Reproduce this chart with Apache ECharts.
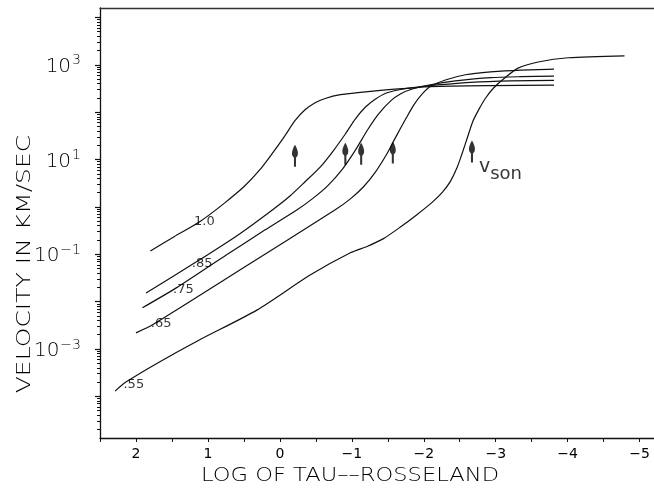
<!DOCTYPE html>
<html>
<head>
<meta charset="utf-8">
<script src="https://cdn.jsdelivr.net/npm/echarts@6/dist/echarts.min.js"></script>
<style>
  html, body { margin: 0; padding: 0; background: #fff; }
  #chart { width: 654px; height: 491px; }
</style>
</head>
<body>
<div id="chart"></div>
<script>
// Wind velocity law: [log tau_Rosseland, log10 velocity (km/s)] for each model
const curveNames = ['1.0', '.85', '.75', '.65', '.55'];

const curve100 = [[1.80,-0.93],[1.47,-0.63],[1.12,-0.32],[0.77,0.08],[0.49,0.44],[0.28,0.78],[0.11,1.12],[-0.06,1.48],[-0.21,1.82],[-0.35,2.05],[-0.49,2.20],[-0.63,2.29],[-0.84,2.37],[-1.12,2.42],[-1.47,2.47],[-1.82,2.51],[-2.09,2.54],[-2.93,2.56],[-3.81,2.57]];
const curve085 = [[1.86,-1.82],[1.16,-1.16],[0.56,-0.57],[0.10,-0.06],[-0.14,0.23],[-0.35,0.53],[-0.56,0.84],[-0.74,1.18],[-0.91,1.54],[-1.05,1.86],[-1.19,2.11],[-1.33,2.28],[-1.49,2.41],[-1.72,2.49],[-1.96,2.54],[-2.23,2.58],[-2.65,2.63],[-3.21,2.66],[-3.81,2.67]];
const curve075 = [[1.91,-2.13],[1.44,-1.71],[0.74,-1.01],[0.21,-0.49],[-0.24,-0.06],[-0.45,0.17],[-0.66,0.44],[-0.87,0.80],[-1.05,1.20],[-1.22,1.63],[-1.37,1.96],[-1.54,2.24],[-1.68,2.39],[-1.84,2.49],[-2.09,2.58],[-2.44,2.66],[-2.93,2.73],[-3.35,2.75],[-3.81,2.76]];
const curve065 = [[2.00,-2.66],[1.77,-2.49],[0.49,-1.27],[-0.77,-0.06],[-0.98,0.17],[-1.16,0.42],[-1.33,0.74],[-1.48,1.10],[-1.62,1.50],[-1.75,1.86],[-1.86,2.15],[-1.97,2.37],[-2.09,2.54],[-2.30,2.68],[-2.58,2.79],[-2.93,2.85],[-3.35,2.89],[-3.81,2.91]];
const curve055 = [[2.29,-3.89],[2.14,-3.70],[1.68,-3.28],[1.12,-2.81],[0.32,-2.18],[-0.42,-1.44],[-0.98,-0.97],[-1.22,-0.83],[-1.44,-0.67],[-1.68,-0.42],[-1.90,-0.17],[-2.12,0.10],[-2.26,0.31],[-2.37,0.54],[-2.46,0.82],[-2.54,1.16],[-2.61,1.48],[-2.68,1.80],[-2.77,2.07],[-2.86,2.30],[-2.97,2.51],[-3.10,2.69],[-3.31,2.93],[-3.59,3.06],[-4.01,3.15],[-4.79,3.19]];
const curves = [curve100, curve085, curve075, curve065, curve055];

// where each model's name is written along its curve
const nameTau  = [1.05, 1.08, 1.34, 1.65, 2.03];
const nameLogV = [-0.32, -1.20, -1.75, -2.47, -3.76];

// sonic points (arrows)
const sonicTau  = [-0.21, -0.91, -1.13, -1.57, -2.67];
const sonicLogV = [1.08, 1.12, 1.12, 1.15, 1.17];

// axis ticks
const xTickLabels = [2, 1, 0, -1, -2, -3, -4, -5];
const xTicks = [2.5, 2, 1.5, 1, 0.5, 0, -0.5, -1, -1.5, -2, -2.5, -3, -3.5, -4, -4.5, -5];
const yLabelExps = [-3, -1, 1, 3];
const yDecades = [-4, -3, -2, -1, 0, 1, 2, 3, 4];

const X_MIN = -5.2, X_MAX = 2.5;
const Y_MIN = -4.88, Y_MAX = 4.2;

// minor log ticks (2..9 within every decade)
const yMinor = [];
for (let n = -5; n <= 4; n++) {
  for (let k = 2; k <= 9; k++) {
    const v = n + Math.log10(k);
    if (v > Y_MIN && v < Y_MAX) yMinor.push(v);
  }
}

const INK = '#111';
const FONT = 'DejaVu Sans';
const minus = s => String(s).replace('-', '\u2212');

const lineSeries = curves.map((c, i) => ({
  type: 'line',
  name: curveNames[i],
  data: c,
  xAxisIndex: 0, yAxisIndex: 0,
  showSymbol: false,
  smooth: 0.25,
  lineStyle: { color: INK, width: 1.2 },
  z: 3
}));

const nameSeries = {
  type: 'scatter',
  xAxisIndex: 0, yAxisIndex: 0,
  symbolSize: 0,
  data: curveNames.map((n, i) => ({ value: [nameTau[i], nameLogV[i]], name: n })),
  label: {
    show: true, position: 'inside',
    formatter: p => p.name,
    fontFamily: FONT, fontSize: 13, color: '#000'
  },
  silent: true, z: 4
};

const arrowPath = 'path://M3,0 C4.6,3.5 6,8 5,11 L3.8,13 L3.8,22 L2.2,22 L2.2,13 L1,11 C0,8 1.4,3.5 3,0 Z';
const sonicSeries = {
  type: 'scatter',
  xAxisIndex: 0, yAxisIndex: 0,
  symbol: arrowPath,
  symbolSize: [6, 22],
  itemStyle: { color: '#000' },
  data: sonicTau.map((t, i) => {
    const d = { value: [t, sonicLogV[i]] };
    if (i === sonicTau.length - 1) {
      d.label = {
        show: true, position: 'right', distance: 4, offset: [0, 16],
        formatter: '{v|v}{s|son}',
        rich: {
          v: { fontFamily: FONT, fontSize: 19, color: '#000', verticalAlign: 'top', lineHeight: 20 },
          s: { fontFamily: FONT, fontSize: 18, color: '#000', verticalAlign: 'top', lineHeight: 20, padding: [8, 0, 0, 0] }
        }
      };
    }
    return d;
  }),
  silent: true, z: 5
};

const chart = echarts.init(document.getElementById('chart'), null, { renderer: 'canvas' });
chart.setOption({
  animation: false,
  backgroundColor: '#fff',
  grid: { left: 100, right: 0, top: 8, bottom: 53, containLabel: false },
  xAxis: [
    {
      type: 'value', position: 'bottom', inverse: true,
      min: X_MIN, max: X_MAX,
      splitLine: { show: false },
      axisLine: { show: true, onZero: false, lineStyle: { color: INK, width: 1.3 } },
      axisTick: { show: true, inside: false, length: 4, customValues: xTicks, lineStyle: { color: INK, width: 1 } },
      axisLabel: {
        show: true, customValues: xTickLabels, margin: 9,
        formatter: v => minus(Math.round(v)),
        fontFamily: FONT, fontSize: 14, color: '#000'
      }
    },
    {
      type: 'value', position: 'top', inverse: true,
      min: X_MIN, max: X_MAX,
      splitLine: { show: false },
      axisLine: { show: true, onZero: false, lineStyle: { color: '#333', width: 1.4 } },
      axisTick: { show: false }, axisLabel: { show: false }
    }
  ],
  yAxis: [
    {
      type: 'value', position: 'left',
      min: Y_MIN, max: Y_MAX,
      splitLine: { show: false },
      axisLine: { show: true, onZero: false, lineStyle: { color: INK, width: 1.3 } },
      axisTick: { show: true, inside: false, length: 5, customValues: yDecades, lineStyle: { color: INK, width: 1.2 } },
      axisLabel: {
        show: true, customValues: yLabelExps, margin: 19,
        formatter: v => '{b|10}{s|' + minus(Math.round(v)) + '}',
        rich: {
          b: { fontFamily: FONT, fontWeight: 200, fontSize: 20, color: '#000', verticalAlign: 'bottom', lineHeight: 24 },
          s: { fontFamily: FONT, fontWeight: 200, fontSize: 14, color: '#000', verticalAlign: 'bottom', lineHeight: 24, padding: [0, 0, 9, 1] }
        }
      }
    },
    {
      type: 'value', position: 'left',
      min: Y_MIN, max: Y_MAX,
      splitLine: { show: false },
      axisLine: { show: false, onZero: false },
      axisTick: { show: true, inside: false, length: 3, customValues: yMinor, lineStyle: { color: INK, width: 1 } },
      axisLabel: { show: false }
    }
  ],
  graphic: [
    {
      type: 'text', x: 25, y: 264, rotation: Math.PI / 2, scaleX: 1.25,
      style: { text: 'VELOCITY IN KM/SEC', font: '200 20px "DejaVu Sans"', fill: '#000', align: 'center', verticalAlign: 'middle' }
    },
    {
      type: 'text', x: 350, y: 476, scaleX: 1.13,
      style: { text: 'LOG OF TAU\u2013\u2013ROSSELAND', font: '200 20px "DejaVu Sans"', fill: '#000', align: 'center', verticalAlign: 'middle' }
    }
  ],
  series: [...lineSeries, nameSeries, sonicSeries]
});
</script>
</body>
</html>
